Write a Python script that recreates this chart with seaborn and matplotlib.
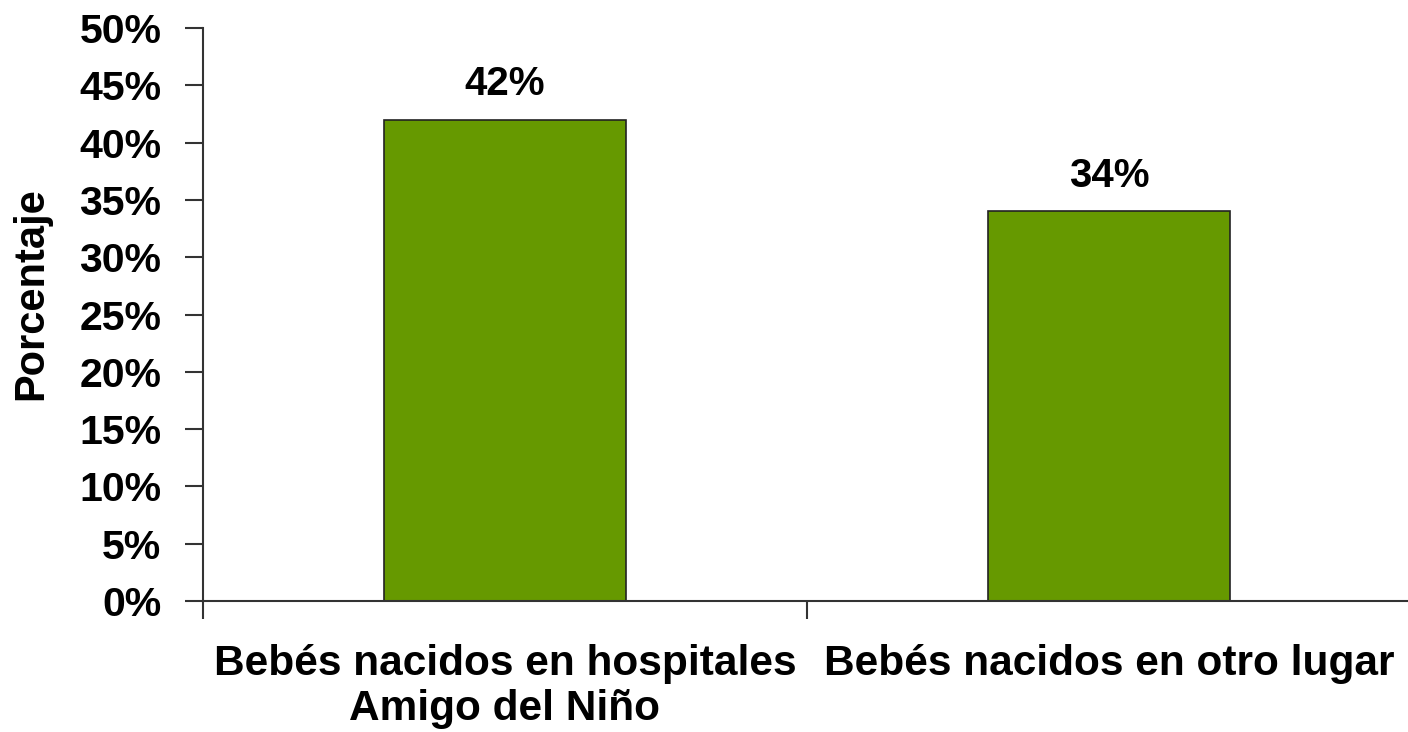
import matplotlib
matplotlib.use("Agg")
import matplotlib.pyplot as plt
import seaborn as sns
import pandas as pd
from matplotlib.ticker import FixedLocator, FuncFormatter

categories = ["Bebés nacidos en hospitales\nAmigo del Niño", "Bebés nacidos en otro lugar"]
values = [42, 34]
y_ticks = [0, 5, 10, 15, 20, 25, 30, 35, 40, 45, 50]

sns.set_theme(style="white")
plt.rcParams['font.family'] = ['Liberation Sans', 'DejaVu Sans']
plt.rcParams['text.color'] = 'black'
plt.rcParams['axes.labelcolor'] = 'black'
plt.rcParams['xtick.color'] = 'black'
plt.rcParams['ytick.color'] = 'black'

df = pd.DataFrame({"cat": categories, "val": values})

fig = plt.figure(figsize=(14.08, 7.32), dpi=100)
ax = fig.add_axes([203/1408, 1 - 601/732, 1 - 203/1408 + 0.002, (601 - 28)/732])

sns.barplot(data=df, x="cat", y="val", ax=ax, color="#669900", width=0.4,
            edgecolor="#222222", linewidth=1.2, saturation=1)

ax.set_xlim(-0.5, 1.5)
ax.set_ylim(0, 50)
ax.set_yticks(y_ticks)
ax.yaxis.set_major_formatter(FuncFormatter(lambda v, p: f"{int(v)}%"))

for s in ["top", "right"]:
    ax.spines[s].set_visible(False)
for s in ["left", "bottom"]:
    ax.spines[s].set_color("#333333")
    ax.spines[s].set_linewidth(1.5)

ax.tick_params(axis="y", which="major", direction="out", length=13, width=1.5,
               color="#333333", left=True, labelsize=29.5, pad=17, labelcolor="black")
for lab in ax.get_yticklabels():
    lab.set_fontweight("bold")

ax.xaxis.set_minor_locator(FixedLocator([-0.5, 0.5, 1.5]))
ax.tick_params(axis="x", which="minor", direction="out", length=13, width=1.5,
               color="#333333", bottom=True)
ax.tick_params(axis="x", which="major", length=0, labelsize=30.5, pad=31, labelcolor="black")
ax.set_xticks([0, 1])
ax.set_xticklabels(categories, fontweight="bold", fontsize=30.5, linespacing=1.17)

ax.set_xlabel("")
ax.set_ylabel("Porcentaje", fontsize=30, fontweight="bold", color="black")
ax.yaxis.set_label_coords(-0.126, 0.536)

for c in ax.containers:
    ax.bar_label(c, labels=[f"{v}%" for v in values], fontsize=29,
                 fontweight="bold", padding=12, color="black")

fig.savefig("out.png", dpi=100)
